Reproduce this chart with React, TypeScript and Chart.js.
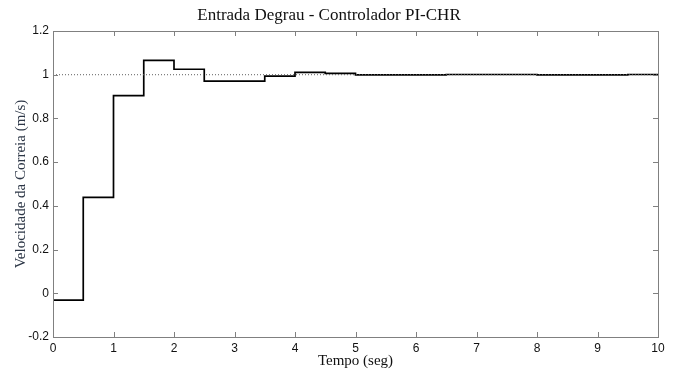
import React, { useEffect, useRef } from "react";
import { Chart, registerables } from "chart.js";

Chart.register(...registerables);

const titleText = "Entrada Degrau - Controlador PI-CHR";
const xTitle = "Tempo (seg)";
const yTitle = "Velocidade da Correia (m/s)";

// sample instants (s) and held (zero-order-hold) belt velocity
const time = [0, 0.5, 1, 1.5, 2, 2.5, 3, 3.5, 4, 4.5, 5, 5.5, 6, 6.5, 7, 7.5, 8, 8.5, 9, 9.5, 10];
const velocity = [
  -0.031, 0.439, 0.904, 1.066, 1.025, 0.971, 0.971, 0.994, 1.011, 1.006,
  0.999, 0.999, 0.999, 1.001, 1.001, 1.001, 0.9995, 0.9995, 0.9995, 1.001, 1.001,
];
const referenceX = [0, 10];
const referenceY = [1, 1];

const xTicks = [0, 1, 2, 3, 4, 5, 6, 7, 8, 9, 10];
const yTicks = [-0.2, 0, 0.2, 0.4, 0.6, 0.8, 1, 1.2];

const AXIS_COLOR = "#808080";

const boxTicksPlugin = {
  id: "boxTicks",
  afterDraw(chart: any) {
    const { ctx, chartArea, scales } = chart;
    const { left, right, top, bottom } = chartArea;
    const len = 5;
    ctx.save();
    ctx.strokeStyle = AXIS_COLOR;
    ctx.lineWidth = 1;
    ctx.beginPath();
    for (const v of xTicks) {
      const px = Math.round(scales.x.getPixelForValue(v)) + 0.5;
      ctx.moveTo(px, bottom);
      ctx.lineTo(px, bottom - len);
      ctx.moveTo(px, top);
      ctx.lineTo(px, top + len);
    }
    for (const v of yTicks) {
      const py = Math.round(scales.y.getPixelForValue(v)) + 0.5;
      ctx.moveTo(left, py);
      ctx.lineTo(left + len, py);
      ctx.moveTo(right, py);
      ctx.lineTo(right - len, py);
    }
    ctx.stroke();
    ctx.strokeRect(Math.round(left) + 0.5, Math.round(top) + 0.5, Math.round(right - left), Math.round(bottom - top));
    ctx.restore();
  },
};

export default function App() {
  const ref = useRef<HTMLCanvasElement | null>(null);

  useEffect(() => {
    if (!ref.current) return;
    Chart.defaults.font.family = "'Liberation Sans', Arial, sans-serif";
    const chart = new Chart(ref.current, {
      type: "line",
      data: {
        datasets: [
          {
            label: "ref",
            data: referenceX.map((x, i) => ({ x, y: referenceY[i] })),
            borderColor: "#606060",
            borderWidth: 1,
            borderDash: [1, 2],
            pointRadius: 0,
            fill: false,
          },
          {
            label: "v",
            data: time.map((x, i) => ({ x, y: velocity[i] })),
            borderColor: "#000000",
            borderWidth: 1.7,
            stepped: "before",
            pointRadius: 0,
            fill: false,
          },
        ],
      },
      options: {
        animation: false,
        responsive: false,
        devicePixelRatio: 1,
        layout: { padding: { left: 0, right: 19, top: 0, bottom: 0 } },
        plugins: {
          legend: { display: false },
          tooltip: { enabled: false },
          title: {
            display: true,
            text: titleText,
            color: "#111111",
            font: { family: "'Liberation Serif', 'Times New Roman', serif", size: 17, weight: "normal" },
            padding: { top: 5, bottom: 5.6 },
          },
        },
        scales: {
          x: {
            type: "linear",
            min: 0,
            max: 10,
            afterFit: (s: any) => { s.height = 33; },
            afterBuildTicks: (s: any) => { s.ticks = xTicks.map((v) => ({ value: v })); },
            ticks: {
              color: "#111111",
              font: { size: 12 },
              padding: 4,
              maxRotation: 0,
              callback: (v: any) => String(v),
            },
            grid: { display: false, drawTicks: false },
            border: { display: false },
            title: {
              display: true,
              text: xTitle,
              color: "#111111",
              font: { family: "'Liberation Serif', 'Times New Roman', serif", size: 15 },
              padding: { top: 0, bottom: 0 },
            },
          },
          y: {
            type: "linear",
            min: -0.2,
            max: 1.2,
            afterFit: (s: any) => { s.width = 53; },
            afterBuildTicks: (s: any) => { s.ticks = yTicks.map((v) => ({ value: v })); },
            ticks: {
              color: "#111111",
              font: { size: 12 },
              padding: 4,
              callback: (v: any) => String(Number(Number(v).toFixed(1))),
            },
            grid: { display: false, drawTicks: false },
            border: { display: false },
            title: {
              display: true,
              text: yTitle,
              color: "#2c3646",
              font: { family: "'Liberation Serif', 'Times New Roman', serif", size: 15 },
              padding: { top: 12, bottom: 0 },
            },
          },
        },
      },
      plugins: [boxTicksPlugin],
    });
    return () => chart.destroy();
  }, []);

  return (
    <div style={{ position: "fixed", left: 0, top: 0, width: 677, height: 370, background: "#ffffff" }}>
      <canvas ref={ref} width={677} height={370} />
    </div>
  );
}
